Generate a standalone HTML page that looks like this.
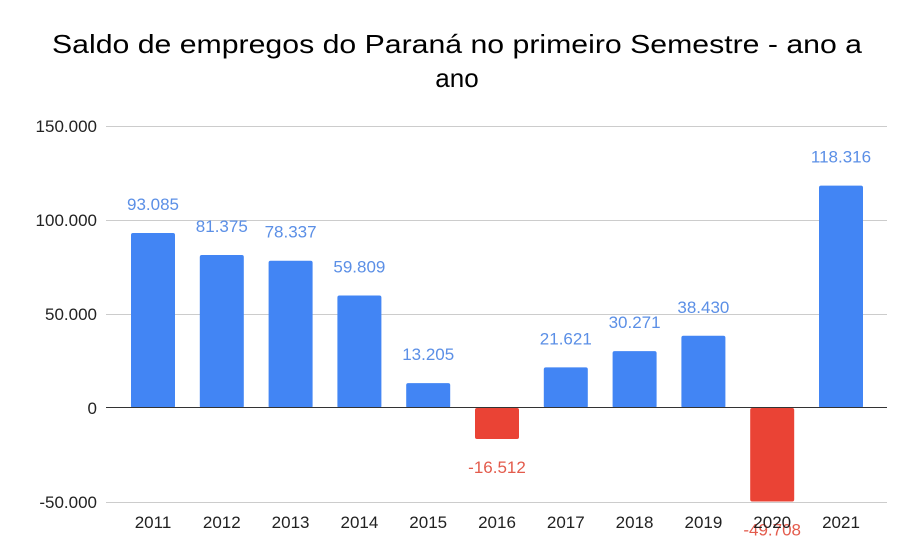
<!DOCTYPE html>
<html><head><meta charset="utf-8"><style>html,body{margin:0;padding:0;background:#fff}</style></head>
<body>
<svg width="915" height="555" xmlns="http://www.w3.org/2000/svg" font-family="Liberation Sans, Arial, sans-serif">
<rect width="915" height="555" fill="#fff"/>
<text x="457" y="53" font-size="26" text-anchor="middle" fill="#000" textLength="810" lengthAdjust="spacingAndGlyphs">Saldo de empregos do Paraná no primeiro Semestre - ano a</text>
<text x="457" y="87" font-size="26" text-anchor="middle" fill="#000">ano</text>
<g stroke="#cccccc" stroke-width="1">
<line x1="106" x2="887" y1="126.5" y2="126.5"/>
<line x1="106" x2="887" y1="220.5" y2="220.5"/>
<line x1="106" x2="887" y1="314.5" y2="314.5"/>
<line x1="106" x2="887" y1="502.5" y2="502.5"/>
</g>
<g font-size="17" fill="#222" text-anchor="end">
<text x="97" y="132">150.000</text>
<text x="97" y="226">100.000</text>
<text x="97" y="320">50.000</text>
<text x="97" y="414">0</text>
<text x="97" y="508">-50.000</text>
</g>
<g id="bars"></g>
<line x1="106" x2="887" y1="407.5" y2="407.5" stroke="#333" stroke-width="1"/>
<script>
var vals=[93085,81375,78337,59809,13205,-16512,21621,30271,38430,-49708,118316];
var lbl=["93.085","81.375","78.337","59.809","13.205","-16.512","21.621","30.271","38.430","-49.708","118.316"];
var g=document.getElementById('bars'),ns="http://www.w3.org/2000/svg",s=94/50000,z=408;
for(var i=0;i<11;i++){var x=131+i*68.8,v=vals[i],h=Math.abs(v)*s;
var r=document.createElementNS(ns,'rect');r.setAttribute('x',x);r.setAttribute('width',44);
r.setAttribute('y',v>0?z-h:z);r.setAttribute('height',h);r.setAttribute('rx',2);
r.setAttribute('fill',v>0?'#4285f4':'#ea4335');g.appendChild(r);
var t=document.createElementNS(ns,'text');t.setAttribute('x',x+22);t.setAttribute('text-anchor','middle');
t.setAttribute('font-size','17');t.setAttribute('fill',v>0?'#5b8fe6':'#e35b4c');
t.setAttribute('y',v>0?z-h-23:z+h+34);t.textContent=lbl[i];g.appendChild(t);
var y=document.createElementNS(ns,'text');y.setAttribute('x',x+22);y.setAttribute('y',528);y.setAttribute('text-anchor','middle');
y.setAttribute('font-size','17');y.setAttribute('fill','#222');y.textContent=2011+i;g.appendChild(y);}
</script>
</svg>
</body></html>
